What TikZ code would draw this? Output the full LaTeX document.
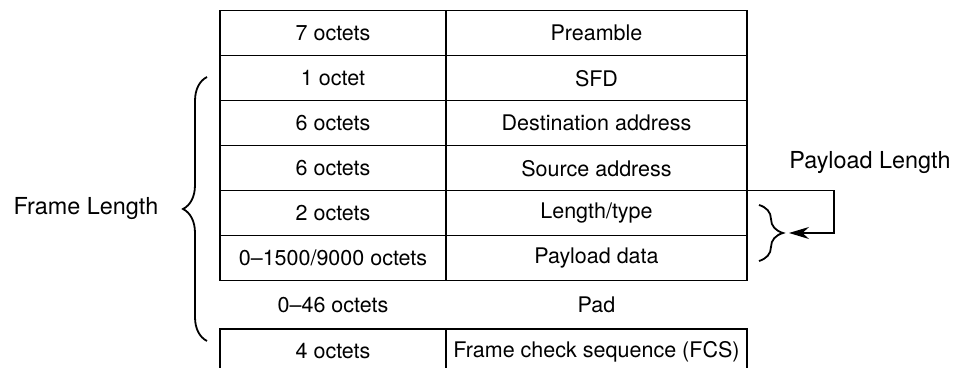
\documentclass[tikz,border=0pt]{standalone}
\usepackage{fontspec}
\setmainfont{TeX Gyre Heros}
\usetikzlibrary{arrows.meta, positioning, decorations.pathreplacing}

\begin{document}
\begin{tikzpicture}[x=0.5pt, y=-0.5pt,
  cellL/.style={draw, line width=0.6pt, minimum width=113pt, minimum height=22.5pt,
    inner sep=0pt, outer sep=0pt, font=\fontsize{10.75}{12}\selectfont},
  cellR/.style={cellL, minimum width=150.5pt},
  padtxt/.style={font=\fontsize{10.75}{12}\selectfont},
  lbl/.style={font=\fontsize{11.7}{14}\selectfont},
  curly/.style={decorate, decoration={brace, amplitude=12pt}, line width=0.9pt}]
  \useasboundingbox (0,0) rectangle (955,368);

  % Champs de la trame
  \node[cellL] (oct1) at (333,33.2) {7 octets};
  \node[cellR] (fld1) at (596.5,33.2) {Preamble};
  \node[cellL] (oct2) at (333,78.2) {1 octet};
  \node[cellR] (fld2) at (596.5,78.2) {SFD};
  \node[cellL] (oct3) at (333,123.2) {6 octets};
  \node[cellR] (fld3) at (596.5,123.2) {Destination address};
  \node[cellL] (oct4) at (333,168.2) {6 octets};
  \node[cellR] (fld4) at (596.5,168.2) {Source address};
  \node[cellL] (oct5) at (333,213.2) {2 octets};
  \node[cellR] (fld5) at (596.5,213.2) {Length/type};
  \node[cellL] (oct6) at (333,258.2) {0–1500/9000 octets};
  \node[cellR] (fld6) at (596.5,258.2) {Payload data};

  % Pad (sans cadre)
  \node[padtxt] (oct7) at (333,305) {0–46 octets};
  \node[padtxt] (fld7) at (596.5,305) {Pad};

  % FCS
  \node[cellL] (oct8) at (333,351.5) {4 octets};
  \node[cellR] (fld8) at (596.5,351.5) {Frame check sequence (FCS)};

  % Accolade Frame Length
  \coordinate (flTop) at (207,77);
  \coordinate (flBot) at (207,341);
  \draw[curly] (flBot) -- (flTop);
  \node[lbl] (frameLen) at (86,209) {Frame Length};

  % Accolade Payload Length
  \coordinate (plTop) at (759,205);
  \coordinate (plBot) at (759,261);
  \draw[curly] (plTop) -- (plBot);
  \coordinate (plTip) at (789,233);
  \draw[line width=0.6pt, -{Stealth[length=10pt, width=6pt]}]
    (fld4.south east) -- ++(87,0) |- (plTip);
  \node[lbl] (payLen) at (870,163) {Payload Length};
\end{tikzpicture}
\end{document}
